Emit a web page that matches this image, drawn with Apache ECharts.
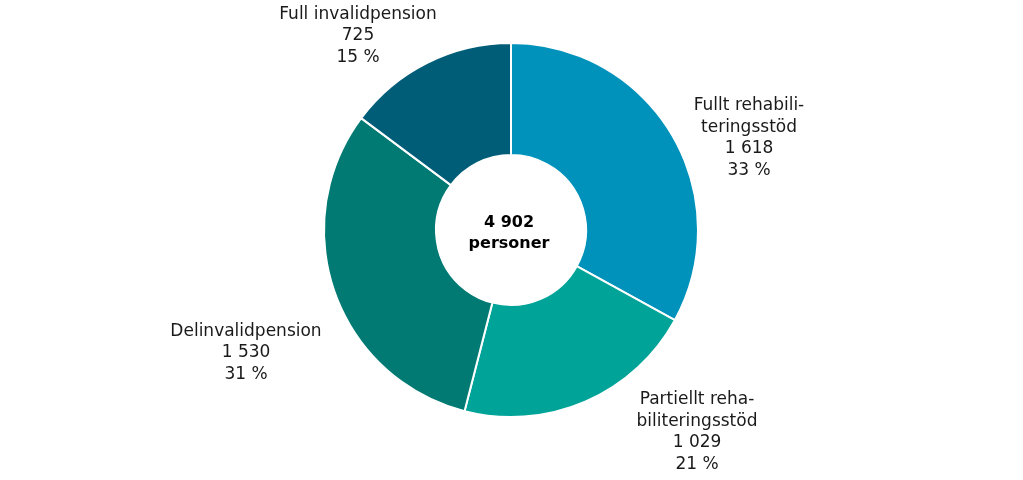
<!DOCTYPE html>
<html>
<head>
<meta charset="utf-8">
<script src="https://cdn.jsdelivr.net/npm/echarts@6/dist/echarts.min.js"></script>
<style>html,body{margin:0;padding:0;background:#fff}#c{width:1023px;height:480px}</style>
</head>
<body>
<div id="c"></div>
<script>
const categories = ['Fullt rehabiliteringsstöd', 'Partiellt rehabiliteringsstöd', 'Delinvalidpension', 'Full invalidpension'];
const labelNames = ['Fullt rehabili-\nteringsstöd', 'Partiellt reha-\nbiliteringsstöd', 'Delinvalidpension', 'Full invalidpension'];
const values = [1618, 1029, 1530, 725];
const colors = ['#0092BB', '#00A398', '#007A72', '#005D77'];
const labelPos = [[749, 138], [697, 432], [246, 353], [358, 36]];

const total = values.reduce((a, b) => a + b, 0);
const fmt = n => String(n).replace(/\B(?=(\d{3})+(?!\d))/g, ' ');
const FONT = '"DejaVu Sans", Verdana, sans-serif';

const chart = echarts.init(document.getElementById('c'));
chart.setOption({
  animation: false,
  backgroundColor: '#fff',
  graphic: [{
    type: 'text',
    x: 509, y: 233,
    style: {
      text: fmt(total) + '\npersoner',
      x: 0, y: 0,
      align: 'center', verticalAlign: 'middle',
      font: 'bold 16px ' + FONT,
      lineHeight: 21,
      fill: '#000'
    }
  }],
  series: [{
    type: 'pie',
    center: [511, 230],
    radius: [75, 187],
    startAngle: 90,
    clockwise: true,
    itemStyle: { borderColor: '#fff', borderWidth: 2 },
    label: {
      show: true,
      position: 'outside',
      fontFamily: FONT,
      fontSize: 17,
      lineHeight: 21.5,
      color: '#1a1a1a',
      align: 'center',
      formatter: p => labelNames[p.dataIndex] + '\n' + fmt(p.value) + '\n' + Math.round(p.percent) + ' %'
    },
    labelLine: { show: false },
    labelLayout: p => ({
      x: labelPos[p.dataIndex][0],
      y: labelPos[p.dataIndex][1],
      align: 'center',
      verticalAlign: 'middle'
    }),
    emphasis: { disabled: true },
    data: categories.map((c, i) => ({ name: c, value: values[i], itemStyle: { color: colors[i] } }))
  }]
});
</script>
</body>
</html>
